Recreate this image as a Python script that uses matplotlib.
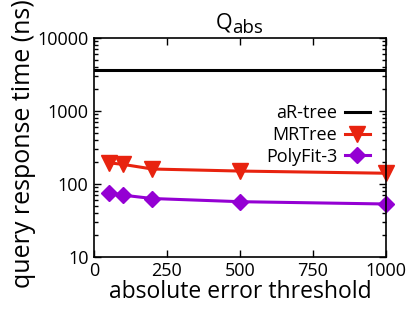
import numpy as np
import matplotlib
matplotlib.use("Agg")
import matplotlib.pyplot as plt
from matplotlib.ticker import LogLocator, NullFormatter, FixedLocator, FuncFormatter

# data
thresholds = [50, 100, 200, 500, 1000]
artree = [3700, 3700, 3700, 3700, 3700]
mrtree = [195, 185, 160, 150, 140]
polyfit = [76, 70, 63, 57, 53]

plt.rcParams['font.family'] = ['Open Sans', 'DejaVu Sans']

fig = plt.figure(figsize=(4.15, 3.23), dpi=100)
ax = fig.add_axes([0.2265, 0.205, 0.7035, 0.677])

ax.plot([0, 1000], [artree[0], artree[-1]], color='black', lw=2.2, label='aR-tree')
ax.plot(thresholds, mrtree, color='#e8230f', lw=2.2, marker='v', ms=11,
        label='MRTree', clip_on=False)
ax.plot(thresholds, polyfit, color='#9400d3', lw=2.2, marker='D', ms=8,
        label='PolyFit-3', clip_on=False)

ax.set_yscale('log')
ax.set_ylim(10, 10000)
ax.set_xlim(0, 1000)
ax.set_xticks([0, 250, 500, 750, 1000])
ax.yaxis.set_major_locator(FixedLocator([10, 100, 1000, 10000]))
ax.yaxis.set_major_formatter(FuncFormatter(lambda v, p: '%d' % v))
ax.yaxis.set_minor_locator(LogLocator(base=10, subs=np.arange(2, 10)))
ax.yaxis.set_minor_formatter(NullFormatter())

ax.tick_params(which='both', direction='in', top=True, right=True, labelsize=13, width=1)
ax.tick_params(which='major', length=5, pad=4)
ax.tick_params(which='minor', length=3)
for s in ax.spines.values():
    s.set_linewidth(1.2)

# title Q with a large subscript, gnuplot style
fig.text(232 / 415, 1 - 29 / 323, 'Q', fontsize=15.5, ha='right', va='baseline')
fig.text(232 / 415, 1 - 33 / 323, 'abs', fontsize=13.5, ha='left', va='baseline')

ax.set_xlabel('absolute error threshold', fontsize=16.5, labelpad=0)
ax.set_ylabel('query response time (ns)', fontsize=18)
ax.yaxis.set_label_coords(-0.2, 0.518)

ax.legend(loc='upper right', bbox_to_anchor=(0.97, 0.73), frameon=False,
          markerfirst=False, fontsize=13, handlelength=1.4,
          handletextpad=0.4, labelspacing=0.2, borderaxespad=0)

fig.savefig('out.png', dpi=100)
